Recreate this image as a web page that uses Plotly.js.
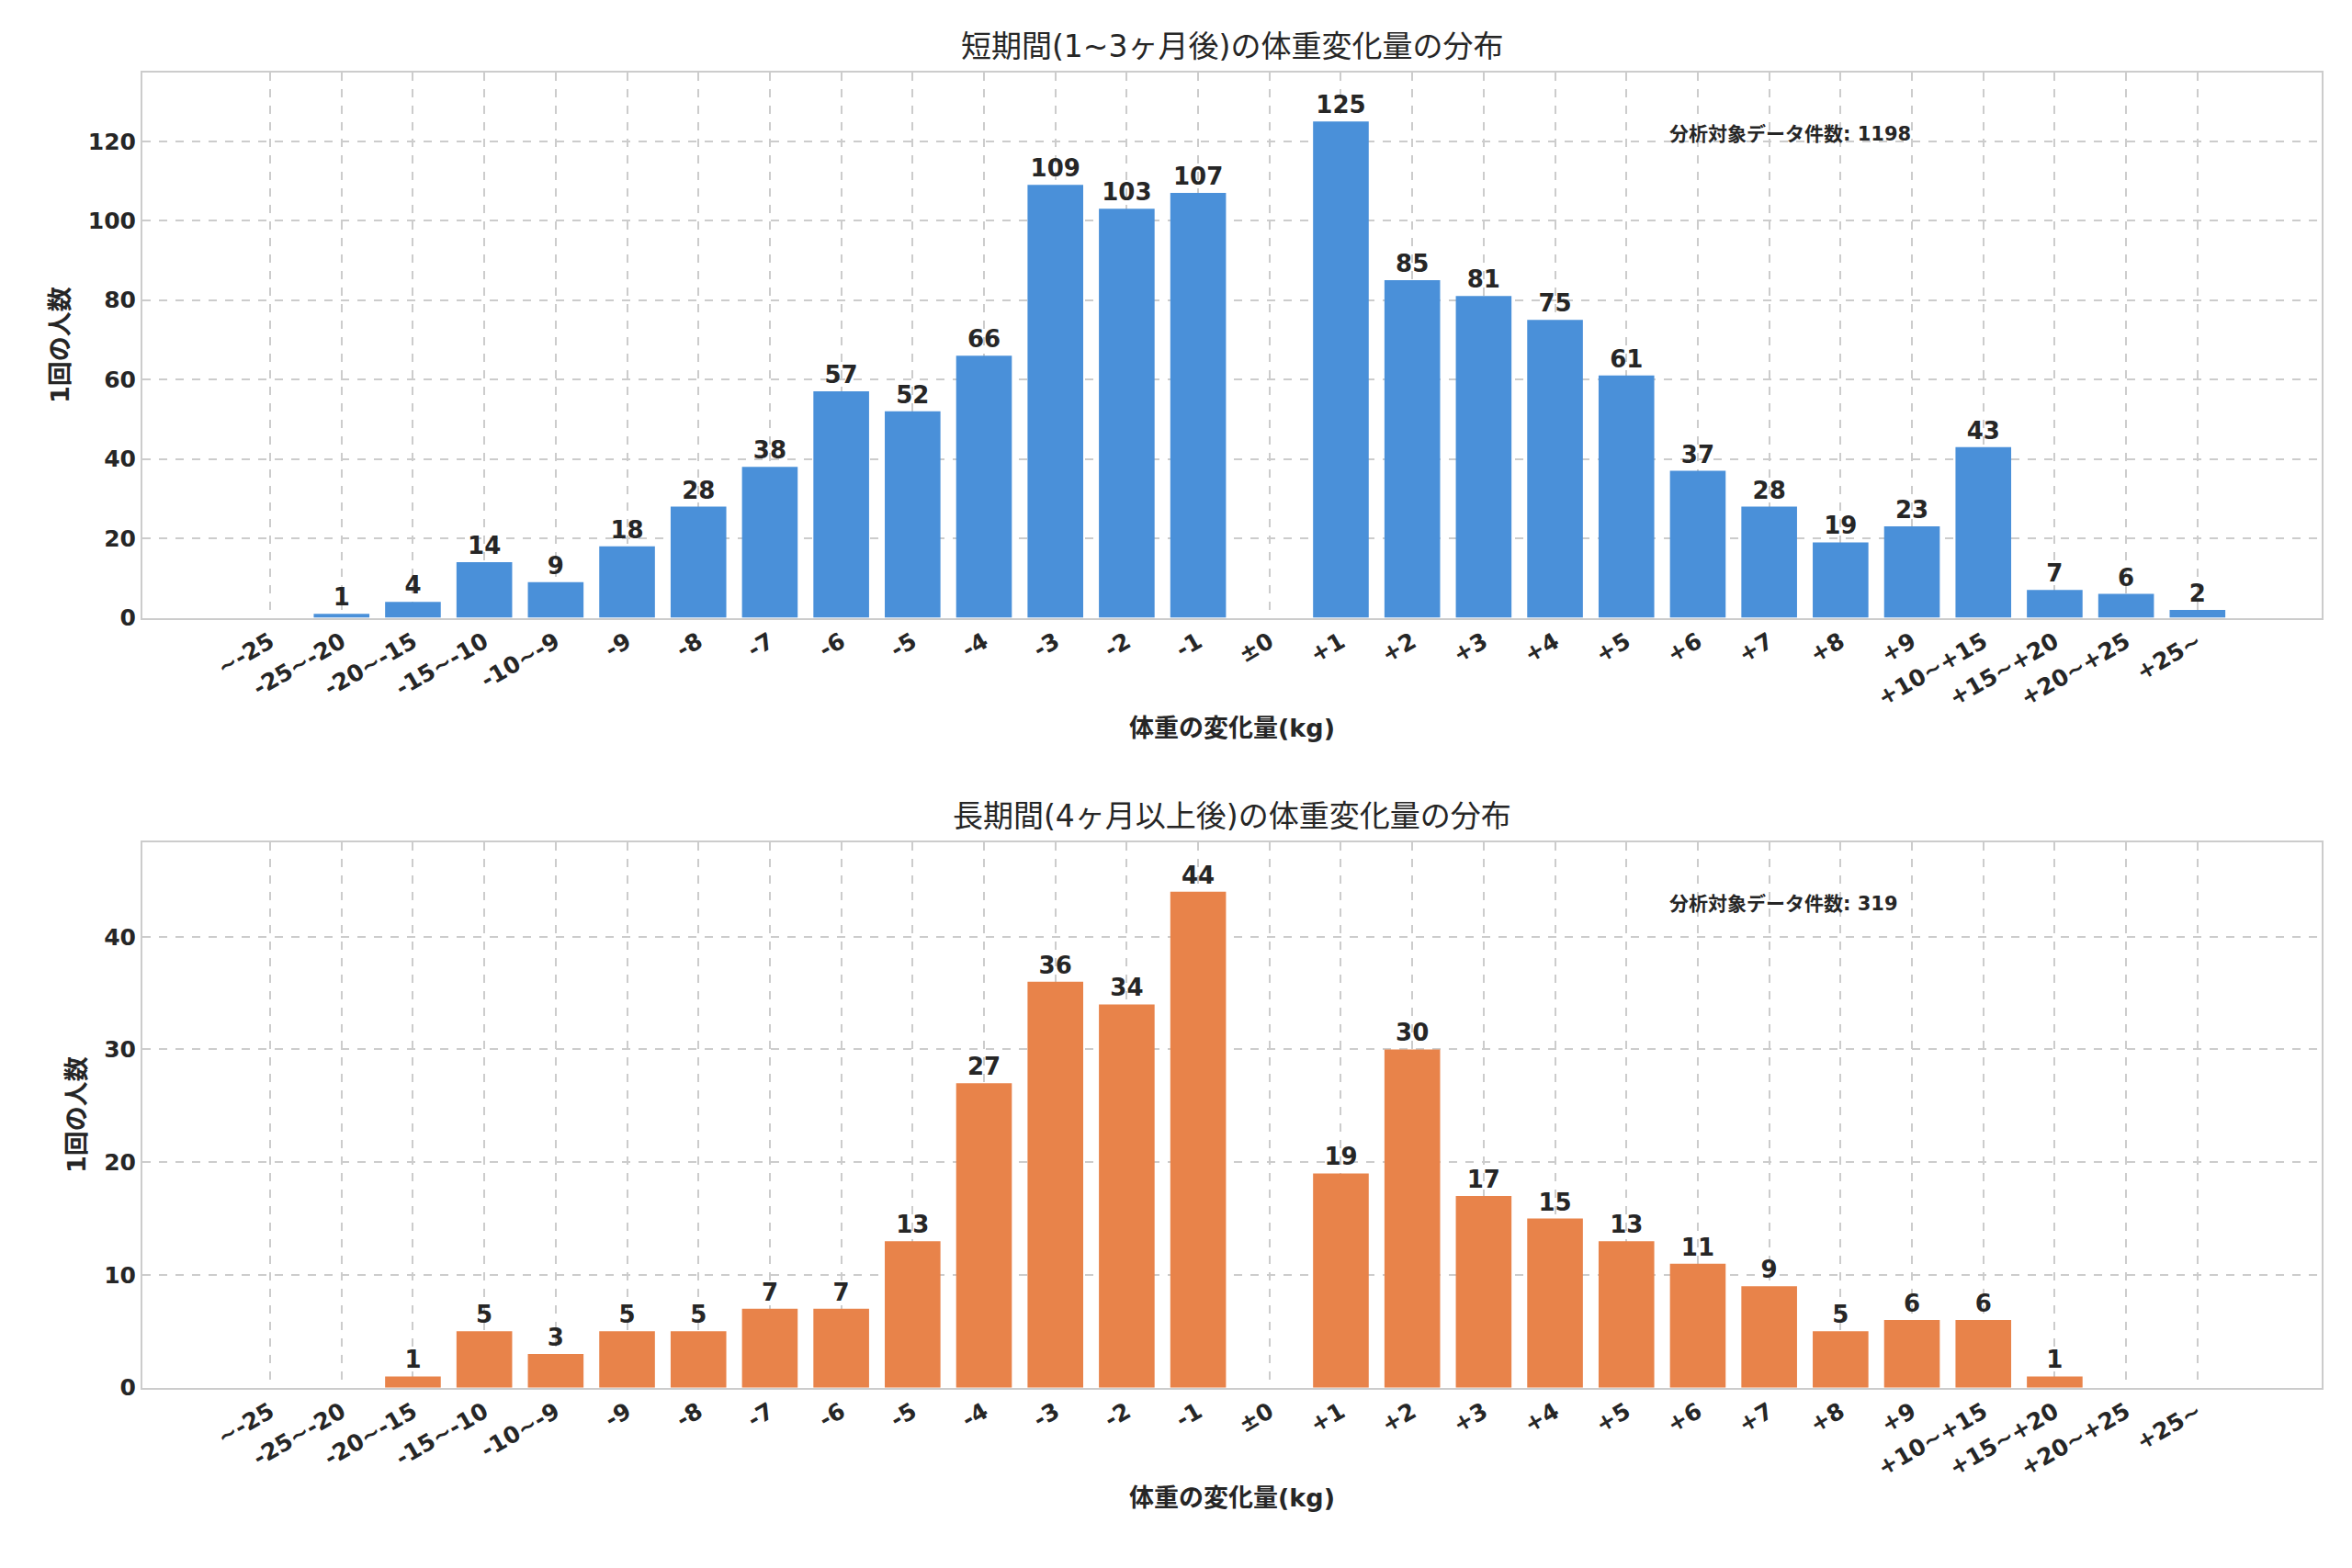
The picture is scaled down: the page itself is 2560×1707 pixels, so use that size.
<!DOCTYPE html>
<html>
<head>
<meta charset="utf-8">
<script src="https://cdn.plot.ly/plotly-3.0.1.min.js"></script>
<style>body{margin:0;background:#fff}#chart{width:2560px;height:1707px}</style>
</head>
<body>
<div id="chart"></div>
<script>
var categories = ['~-25','-25~-20','-20~-15','-15~-10','-10~-9','-9','-8','-7','-6','-5','-4','-3','-2','-1','±0',
  '+1','+2','+3','+4','+5','+6','+7','+8','+9','+10~+15','+15~+20','+20~+25','+25~'];
var shortTerm = [0,1,4,14,9,18,28,38,57,52,66,109,103,107,0,125,85,81,75,61,37,28,19,23,43,7,6,2];
var longTerm = [0,0,1,5,3,5,5,7,7,13,27,36,34,44,0,19,30,17,15,13,11,9,5,6,6,1,0,0];
var titles = ['短期間(1~3ヶ月後)の体重変化量の分布', '長期間(4ヶ月以上後)の体重変化量の分布'];
var totals = ['分析対象データ件数: 1198', '分析対象データ件数: 319'];

var font = 'DejaVu Sans, Noto Sans CJK JP, sans-serif';
var xs = categories.map(function(c, i){ return i; });

function labels(vals){
  return vals.map(function(v){ return v > 0 ? '<b>' + v + '</b>' : ''; });
}

var traces = [
  {x: xs, y: shortTerm, type: 'bar', marker: {color: '#4a90d9'}, width: 0.78,
   text: labels(shortTerm), textposition: 'outside', cliponaxis: false,
   textfont: {size: 26, color: '#262626', family: font}, xaxis: 'x', yaxis: 'y'},
  {x: xs, y: longTerm, type: 'bar', marker: {color: '#e8834a'}, width: 0.78,
   text: labels(longTerm), textposition: 'outside', cliponaxis: false,
   textfont: {size: 26, color: '#262626', family: font}, xaxis: 'x2', yaxis: 'y2'}
];

function xaxis(anchor){
  return {anchor: anchor, domain: [0, 1], range: [-1.79, 28.74], tickmode: 'array',
    tickvals: xs, ticktext: categories.map(function(c){ return '<b>' + c + '</b>'; }),
    tickangle: -30, tickfont: {size: 25, color: '#262626', family: font},
    showgrid: true, gridcolor: '#cccccc', griddash: 'dash', gridwidth: 1.5,
    showline: true, linecolor: '#cccccc', linewidth: 2, mirror: true, zeroline: false,
    ticks: '', automargin: false,
    title: {text: '<b>体重の変化量(kg)</b>', font: {size: 27, color: '#262626', family: font}, standoff: 10}};
}
function yaxis(anchor, dom, range, dtick){
  return {anchor: anchor, domain: dom, range: range, dtick: dtick,
    tickfont: {size: 25, color: '#262626', family: font}, tickprefix: '<b>', ticksuffix: '</b>',
    showgrid: true, gridcolor: '#cccccc', griddash: 'dash', gridwidth: 1.5,
    showline: true, linecolor: '#cccccc', linewidth: 2, mirror: true, zeroline: false,
    ticks: '', automargin: false,
    title: {text: '<b>1回の人数</b>', font: {size: 27, color: '#262626', family: font}, standoff: 12}};
}

var layout = {
  width: 2560, height: 1707, showlegend: false, bargap: 0.2,
  paper_bgcolor: '#fff', plot_bgcolor: '#fff',
  margin: {l: 155, r: 33, t: 0, b: 0},
  xaxis: xaxis('y'), yaxis: yaxis('x', [0.606, 0.954], [0, 137.4], 20),
  xaxis2: xaxis('y2'), yaxis2: yaxis('x2', [0.115, 0.463], [0, 48.4], 10),
  annotations: [
    {text: titles[0], xref: 'paper', yref: 'paper', x: 0.5, y: 0.958, yanchor: 'bottom', showarrow: false,
     font: {size: 33, color: '#262626', family: font}},
    {text: titles[1], xref: 'paper', yref: 'paper', x: 0.5, y: 0.467, yanchor: 'bottom', showarrow: false,
     font: {size: 33, color: '#262626', family: font}},
    {text: '<b>' + totals[0] + '</b>', xref: 'x domain', yref: 'y domain', x: 0.7, y: 0.91, xanchor: 'left',
     showarrow: false, font: {size: 21, color: '#262626', family: font}},
    {text: '<b>' + totals[1] + '</b>', xref: 'x2 domain', yref: 'y2 domain', x: 0.7, y: 0.91, xanchor: 'left',
     showarrow: false, font: {size: 21, color: '#262626', family: font}}
  ]
};

Plotly.newPlot('chart', traces, layout, {displayModeBar: false});
</script>
</body>
</html>
